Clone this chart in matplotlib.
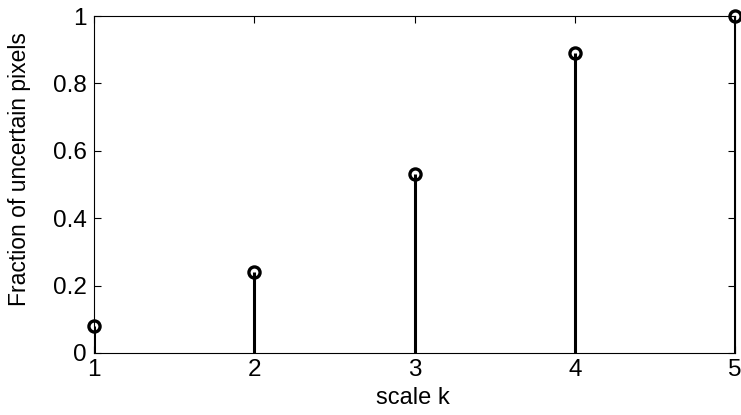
import numpy as np
import matplotlib.pyplot as plt

plt.rcParams['font.family'] = ['Liberation Sans', 'DejaVu Sans']

# Data
scales = [1, 2, 3, 4, 5]
fractions = [0.08, 0.24, 0.53, 0.89, 1.0]

fig = plt.figure(figsize=(7.41, 4.15), dpi=100)
ax = fig.add_axes([0.1269, 0.1494, 0.8650, 0.8120])

ax.vlines(scales, 0, fractions, color='black', linewidth=2.2)
ax.plot(scales, fractions, 'o', markersize=8, markerfacecolor='none',
        markeredgecolor='black', markeredgewidth=2.4, clip_on=False)

ax.set_xlim(1, 5)
ax.set_ylim(0, 1)
ax.set_xticks(scales)
ax.set_yticks([0, 0.2, 0.4, 0.6, 0.8, 1])
ax.set_yticklabels(['0', '0.2', '0.4', '0.6', '0.8', '1'])
ax.tick_params(direction='in', top=True, right=True, length=5, width=0.8,
               labelsize=17.5)
ax.tick_params(axis='y', pad=5)
ax.tick_params(axis='x', pad=4)
for s in ax.spines.values():
    s.set_linewidth(0.8)

ax.set_xlabel('scale k', fontsize=17)
ax.set_ylabel('Fraction of uncertain pixels', fontsize=16.5)
ax.xaxis.set_label_coords(0.498, -0.100)
ax.yaxis.set_label_coords(-0.098, 0.545)

fig.savefig('out.png', dpi=100)
